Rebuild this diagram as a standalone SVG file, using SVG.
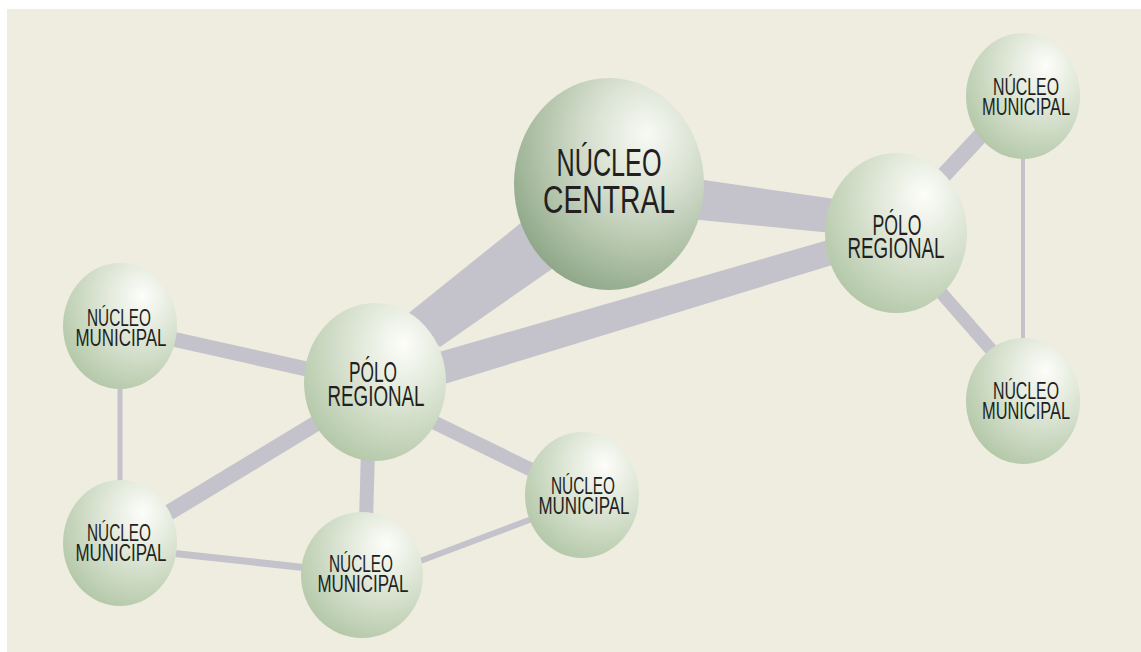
<svg xmlns="http://www.w3.org/2000/svg" width="1141" height="652" viewBox="0 0 1141 652">
<defs>
<radialGradient id="gN" cx="0.66" cy="0.3" r="0.85" fx="0.7" fy="0.26">
<stop offset="0" stop-color="#fdfdfa"/>
<stop offset="0.3" stop-color="#e6ecdf"/>
<stop offset="1" stop-color="#abc29f"/>
</radialGradient>
<radialGradient id="gC" cx="0.66" cy="0.3" r="0.85" fx="0.7" fy="0.26">
<stop offset="0" stop-color="#f8f9f4"/>
<stop offset="0.3" stop-color="#dce4d5"/>
<stop offset="0.65" stop-color="#b0c2a8"/>
<stop offset="1" stop-color="#819c7b"/>
</radialGradient>
</defs>
<style>
.t{font-family:"Liberation Sans",Arial,sans-serif;fill:#231f20;text-anchor:middle}
.s{font-size:24px}
.m{font-size:30px}
.l{font-size:38px}
.c{stroke:#c4c2ca;fill:none}
.p{fill:#c4c2ca}
</style>
<rect x="7" y="9" width="1134" height="643" fill="#efece0"/>
<g id="connectors">
<polygon class="p" points="522,222 562,262 440,347 405,316"/>
<polygon class="p" points="690,178 842,200 842,234 690,219"/>
<polygon class="p" points="432,354 842,236 842,262 438,386"/>
<line class="c" x1="168" y1="338" x2="320" y2="372" stroke-width="15"/>
<line class="c" x1="160" y1="518" x2="325" y2="418" stroke-width="16"/>
<line class="c" x1="368" y1="450" x2="366" y2="522" stroke-width="14"/>
<line class="c" x1="425" y1="418" x2="540" y2="474" stroke-width="14"/>
<line class="c" x1="120" y1="380" x2="120" y2="490" stroke-width="5"/>
<line class="c" x1="170" y1="553" x2="308" y2="568" stroke-width="7"/>
<line class="c" x1="415" y1="563" x2="532" y2="519" stroke-width="6"/>
<line class="c" x1="930" y1="190" x2="995" y2="120" stroke-width="16"/>
<line class="c" x1="930" y1="280" x2="1000" y2="360" stroke-width="13"/>
<line class="c" x1="1023" y1="150" x2="1023" y2="345" stroke-width="4"/>
</g>
<g id="nucleo-central">
<ellipse cx="609" cy="184" rx="95" ry="106" fill="url(#gC)"/>
<text class="t l" x="609" y="176" textLength="105" lengthAdjust="spacingAndGlyphs">NÚCLEO</text>
<text class="t l" x="609" y="213" textLength="132" lengthAdjust="spacingAndGlyphs">CENTRAL</text>
</g>
<g id="polo-regional-1">
<ellipse cx="375" cy="382" rx="71" ry="79" fill="url(#gN)"/>
<text class="t m" x="373" y="382" textLength="48" lengthAdjust="spacingAndGlyphs">PÓLO</text>
<text class="t m" x="376" y="406" textLength="97" lengthAdjust="spacingAndGlyphs">REGIONAL</text>
</g>
<g id="polo-regional-2">
<ellipse cx="896" cy="233" rx="71" ry="80" fill="url(#gN)"/>
<text class="t m" x="897" y="235" textLength="49" lengthAdjust="spacingAndGlyphs">PÓLO</text>
<text class="t m" x="896" y="258" textLength="97" lengthAdjust="spacingAndGlyphs">REGIONAL</text>
</g>
<g id="nucleo-municipal-1">
<ellipse cx="1023" cy="96" rx="57" ry="63" fill="url(#gN)"/>
<text class="t s" x="1026" y="95" textLength="66" lengthAdjust="spacingAndGlyphs">NÚCLEO</text>
<text class="t s" x="1026" y="115" textLength="88" lengthAdjust="spacingAndGlyphs">MUNICIPAL</text>
</g>
<g id="nucleo-municipal-2">
<ellipse cx="1023" cy="401" rx="57" ry="63" fill="url(#gN)"/>
<text class="t s" x="1026" y="399" textLength="66" lengthAdjust="spacingAndGlyphs">NÚCLEO</text>
<text class="t s" x="1026" y="419" textLength="88" lengthAdjust="spacingAndGlyphs">MUNICIPAL</text>
</g>
<g id="nucleo-municipal-3">
<ellipse cx="120" cy="326" rx="57" ry="63" fill="url(#gN)"/>
<text class="t s" x="119" y="326" textLength="64" lengthAdjust="spacingAndGlyphs">NÚCLEO</text>
<text class="t s" x="121" y="346" textLength="91" lengthAdjust="spacingAndGlyphs">MUNICIPAL</text>
</g>
<g id="nucleo-municipal-4">
<ellipse cx="120" cy="543" rx="57" ry="63" fill="url(#gN)"/>
<text class="t s" x="119" y="541" textLength="64" lengthAdjust="spacingAndGlyphs">NÚCLEO</text>
<text class="t s" x="121" y="561" textLength="91" lengthAdjust="spacingAndGlyphs">MUNICIPAL</text>
</g>
<g id="nucleo-municipal-5">
<ellipse cx="362" cy="575" rx="61" ry="63" fill="url(#gN)"/>
<text class="t s" x="361" y="572" textLength="64" lengthAdjust="spacingAndGlyphs">NÚCLEO</text>
<text class="t s" x="363" y="592" textLength="91" lengthAdjust="spacingAndGlyphs">MUNICIPAL</text>
</g>
<g id="nucleo-municipal-6">
<ellipse cx="582" cy="495" rx="57" ry="63" fill="url(#gN)"/>
<text class="t s" x="583" y="494" textLength="64" lengthAdjust="spacingAndGlyphs">NÚCLEO</text>
<text class="t s" x="584" y="514" textLength="91" lengthAdjust="spacingAndGlyphs">MUNICIPAL</text>
</g>
</svg>
